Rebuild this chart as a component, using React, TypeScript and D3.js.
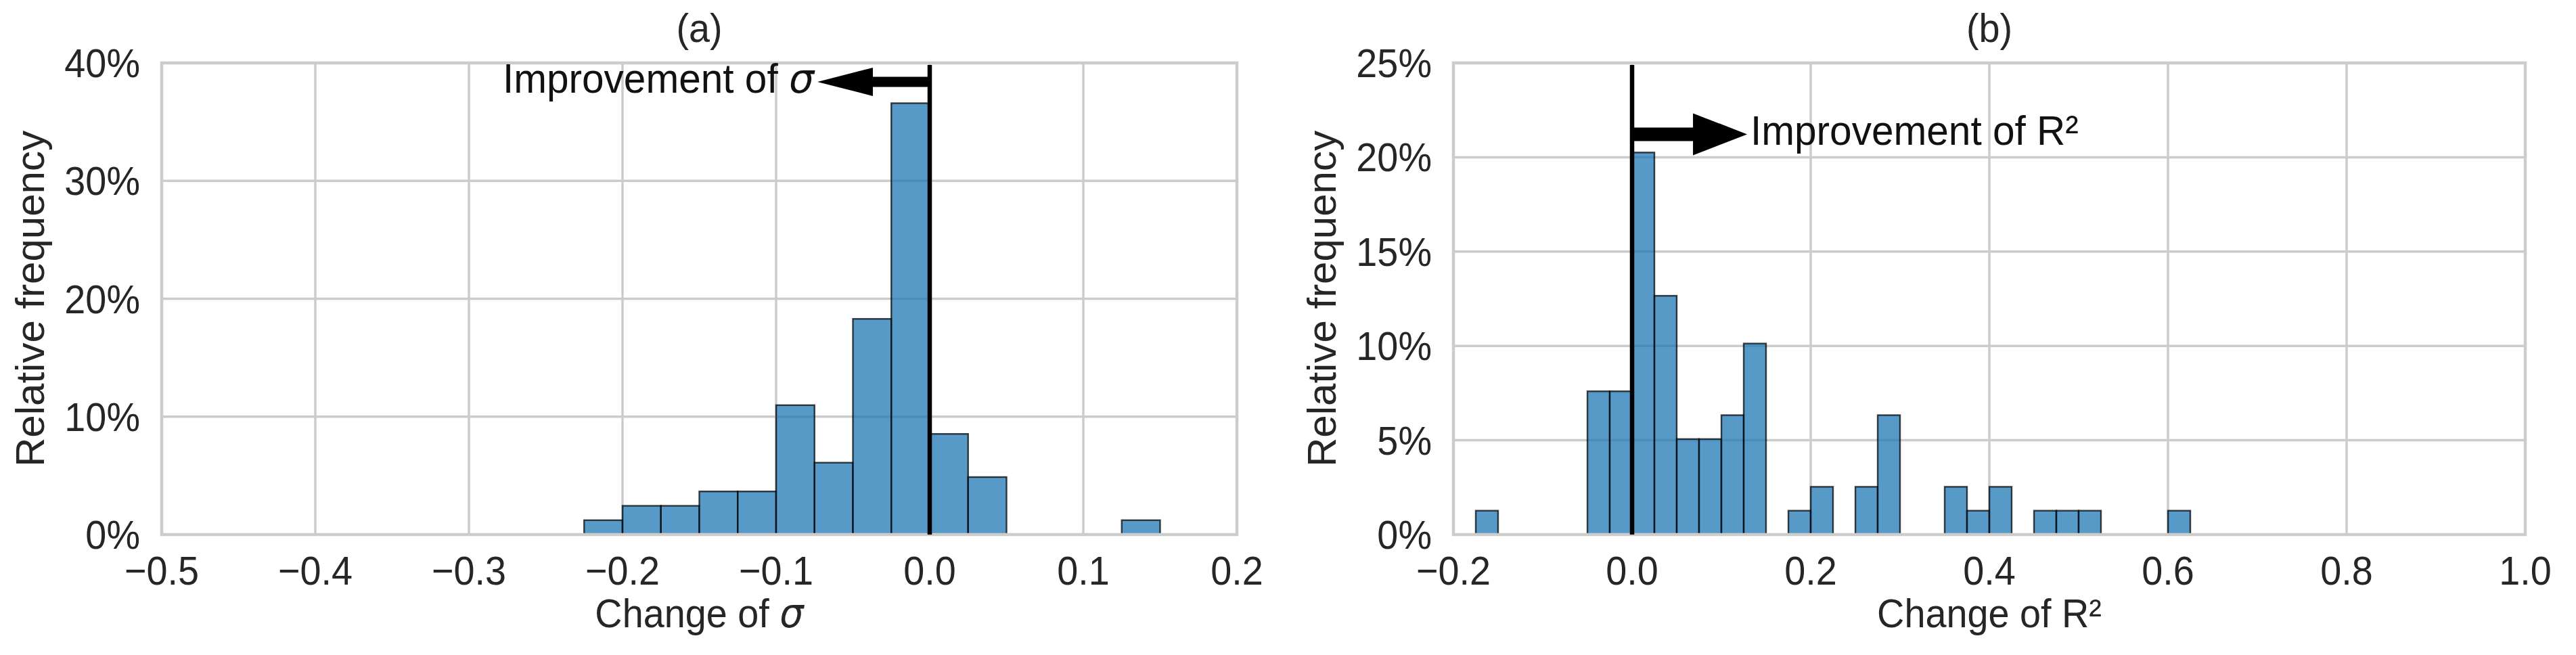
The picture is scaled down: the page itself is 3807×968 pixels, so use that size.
import React from "react";
import * as d3 from "d3";

// ---------- data ----------
// Panel (a): histogram of change of sigma, bin width 0.025 starting at -0.225
const binStartA = -0.225;
const binWidthA = 0.025;
const countsA = [1, 2, 2, 3, 3, 9, 5, 15, 30, 7, 4, 0, 0, 0, 1];
const xTicksA = [-0.5, -0.4, -0.3, -0.2, -0.1, 0.0, 0.1, 0.2];
const yTicksA = [0, 0.1, 0.2, 0.3, 0.4];

// Panel (b): histogram of change of R², bin width 0.025 starting at -0.175
const binStartB = -0.175;
const binWidthB = 0.025;
const countsB = [
  1, 0, 0, 0, 0, 6, 6, 16, 10, 4, 4, 5, 8, 0, 1, 2,
  0, 2, 5, 0, 0, 2, 1, 2, 0, 1, 1, 1, 0, 0, 0, 1,
];
const xTicksB = [-0.2, 0.0, 0.2, 0.4, 0.6, 0.8, 1.0];
const yTicksB = [0, 0.05, 0.1, 0.15, 0.2, 0.25];

// annotation anchors (data units)
const arrowA = { y: 0.384, tip: -0.0731, headBase: -0.037 };
const arrowB = { y: 0.2122, tip: 0.1288, headBase: 0.0682 };

const W = 3807;
const H = 968;
const TOP = 93;
const BOTTOM = 790;
const FONT = "'Liberation Sans', Arial, Helvetica, sans-serif";
const TXT = "#262626";
const FS = 60;
const SX = 0.93;

function HText(props: {
  x: number;
  y: number;
  anchor: "start" | "middle" | "end";
  size?: number;
  sx?: number;
  fill?: string;
  children: React.ReactNode;
}) {
  const s = props.sx ?? SX;
  return (
    <g transform={`translate(${props.x},${props.y}) scale(${s},1)`}>
      <text x={0} y={0} textAnchor={props.anchor} fontFamily={FONT} fontSize={props.size ?? FS} fill={props.fill ?? TXT}>
        {props.children}
      </text>
    </g>
  );
}

type PanelProps = {
  x0: number;
  x1: number;
  xDomain: [number, number];
  yMax: number;
  xTicks: number[];
  yTicks: number[];
  counts: number[];
  binStart: number;
  binWidth: number;
  title: string;
  xlabel: React.ReactNode;
  arrow: { y: number; tip: number; headBase: number };
  dir: "left" | "right";
  annot: React.ReactNode;
  shaft: number;
  head: number;
};

function Panel(p: PanelProps) {
  const x = d3.scaleLinear().domain(p.xDomain).range([p.x0, p.x1]);
  const y = d3.scaleLinear().domain([0, p.yMax]).range([BOTTOM, TOP]);
  const total = d3.sum(p.counts);
  const bars = p.counts
    .map((c, i) => ({
      a: p.binStart + i * p.binWidth,
      b: p.binStart + (i + 1) * p.binWidth,
      f: c / total,
    }))
    .filter((d) => d.f > 0);
  const fx = d3.format(".1f");
  const fy = d3.format(".0%");
  const cx = (p.x0 + p.x1) / 2;
  const ay = y(p.arrow.y);
  const zx = x(0);
  const tipX = x(p.arrow.tip);
  const hbX = x(p.arrow.headBase);
  const arrowPath =
    `M${zx},${ay - p.shaft / 2} L${hbX},${ay - p.shaft / 2} L${hbX},${ay - p.head / 2} ` +
    `L${tipX},${ay} L${hbX},${ay + p.head / 2} L${hbX},${ay + p.shaft / 2} L${zx},${ay + p.shaft / 2} Z`;
  return (
    <g>
      {/* grid */}
      {p.xTicks.map((t) => (
        <line key={"gx" + t} x1={x(t)} x2={x(t)} y1={TOP} y2={BOTTOM} stroke="#cccccc" strokeWidth={3.5} />
      ))}
      {p.yTicks.map((t) => (
        <line key={"gy" + t} x1={p.x0} x2={p.x1} y1={y(t)} y2={y(t)} stroke="#cccccc" strokeWidth={3.5} />
      ))}
      {/* bars */}
      {bars.map((d, i) => (
        <rect
          key={"b" + i}
          x={x(d.a)}
          y={y(d.f)}
          width={x(d.b) - x(d.a)}
          height={BOTTOM - y(d.f)}
          fill="#1f77b4"
          fillOpacity={0.75}
          stroke="#000"
          strokeOpacity={0.72}
          strokeWidth={2.4}
        />
      ))}
      {/* spines */}
      <rect x={p.x0} y={TOP} width={p.x1 - p.x0} height={BOTTOM - TOP} fill="none" stroke="#cccccc" strokeWidth={4.5} />
      {/* zero line */}
      <line x1={zx} x2={zx} y1={TOP + 3} y2={BOTTOM} stroke="#000" strokeWidth={6.5} />
      {/* arrow */}
      <path d={arrowPath} fill="#000" />
      <HText
        x={p.dir === "left" ? tipX - 5 : tipX + 5}
        y={ay + 16}
        anchor={p.dir === "left" ? "end" : "start"}
        size={61}
        sx={0.96}
        fill="#111"
      >
        {p.annot}
      </HText>
      {/* tick labels */}
      {p.xTicks.map((t) => (
        <HText key={"tx" + t} x={x(t)} y={864} anchor="middle">
          {fx(t)}
        </HText>
      ))}
      {p.yTicks.map((t) => (
        <HText key={"ty" + t} x={p.x0 - 32} y={y(t) + 21} anchor="end">
          {fy(t)}
        </HText>
      ))}
      {/* title */}
      <HText x={cx} y={62} anchor="middle">
        {p.title}
      </HText>
      {/* x label */}
      <HText x={cx} y={927} anchor="middle">
        {p.xlabel}
      </HText>
      {/* y label */}
      <text
        transform={`translate(${p.x0 - 174},${(TOP + BOTTOM) / 2}) rotate(-90)`}
        textAnchor="middle"
        fontFamily={FONT}
        fontSize={60}
        fill={TXT}
      >
        Relative frequency
      </text>
    </g>
  );
}

const sigma = (
  <tspan fontFamily="'DejaVu Sans', sans-serif" fontStyle="italic">
    σ
  </tspan>
);

export default function App() {
  return (
    <svg
      width={W}
      height={H}
      viewBox={`0 0 ${W} ${H}`}
      style={{ position: "absolute", left: 0, top: 0, display: "block", background: "#fff" }}
    >
      <rect x={0} y={0} width={W} height={H} fill="#fff" />
      <Panel
        x0={239}
        x1={1828}
        xDomain={[-0.5, 0.2]}
        yMax={0.4}
        xTicks={xTicksA}
        yTicks={yTicksA}
        counts={countsA}
        binStart={binStartA}
        binWidth={binWidthA}
        title="(a)"
        xlabel={<>Change of {sigma}</>}
        arrow={arrowA}
        dir="left"
        annot={<>Improvement of {sigma}</>}
        shaft={15}
        head={42}
      />
      <Panel
        x0={2148}
        x1={3732}
        xDomain={[-0.2, 1.0]}
        yMax={0.25}
        xTicks={xTicksB}
        yTicks={yTicksB}
        counts={countsB}
        binStart={binStartB}
        binWidth={binWidthB}
        title="(b)"
        xlabel="Change of R²"
        arrow={arrowB}
        dir="right"
        annot="Improvement of R²"
        shaft={20}
        head={62}
      />
    </svg>
  );
}
